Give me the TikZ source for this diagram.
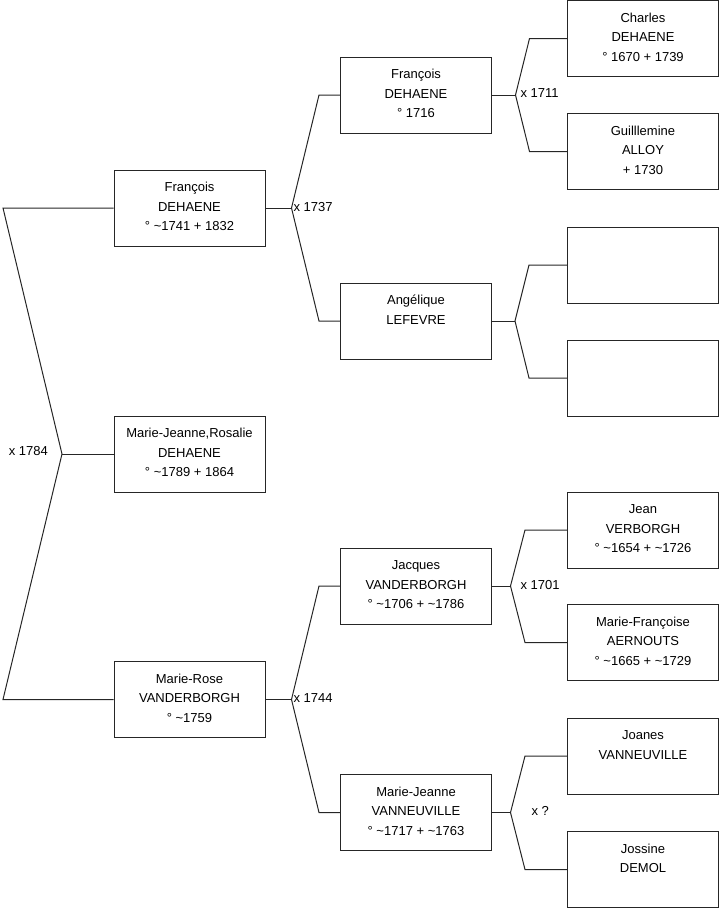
\documentclass[tikz,border=0pt]{standalone}
\usepackage{fontspec}
\setmainfont{Liberation Sans}
\newcommand{\who}[1]{\parbox[c][76pt][t]{151pt}{\centering\rule{0pt}{21.5pt}#1}}
\begin{document}
\begin{tikzpicture}[x=1pt, y=-1pt, line width=1pt, black!85,
	every node/.style={inner sep=0pt, text=black, font=\fontsize{13}{19.5}\selectfont},
	person/.style={draw, minimum width=151pt, minimum height=76pt}]
\useasboundingbox (0,0) rectangle (719,908);
% generation 1
				\node[person] (frd1) at (189.5,208) {\who{François\\DEHAENE\\° \textasciitilde1741 + 1832}};
				\node[person] (mjr1) at (189.5,454) {\who{Marie-Jeanne,Rosalie\\DEHAENE\\° \textasciitilde1789 + 1864}};
				\node[person] (mrv1) at (189.5,699.5) {\who{Marie-Rose\\VANDERBORGH\\° \textasciitilde1759}};
% generation 2
				\node[person] (frd2) at (416,95) {\who{François\\DEHAENE\\° 1716}};
				\node[person] (ale2) at (416,321) {\who{Angélique\\LEFEVRE}};
				\node[person] (jva2) at (416,586) {\who{Jacques\\VANDERBORGH\\° \textasciitilde1706 + \textasciitilde1786}};
				\node[person] (mjv2) at (416,812.5) {\who{Marie-Jeanne\\VANNEUVILLE\\° \textasciitilde1717 + \textasciitilde1763}};
% generation 3
				\node[person] (cde3) at (643,38.5) {\who{Charles\\DEHAENE\\° 1670 + 1739}};
				\node[person] (gal3) at (643,151.5) {\who{Guilllemine\\ALLOY\\+ 1730}};
				\node[person] (emp3a) at (643,265) {\who{}};
				\node[person] (emp3b) at (643,378) {\who{}};
				\node[person] (jve3) at (643,530) {\who{Jean\\VERBORGH\\° \textasciitilde1654 + \textasciitilde1726}};
				\node[person] (mfa3) at (643,642.5) {\who{Marie-Françoise\\AERNOUTS\\° \textasciitilde1665 + \textasciitilde1729}};
				\node[person] (jvn3) at (643,756) {\who{Joanes\\VANNEUVILLE}};
				\node[person] (jde3) at (643,869.5) {\who{Jossine\\DEMOL}};
% marriages
				\node[anchor=base west] (m1784) at (8.3,455.7) {x 1784};
				\node[anchor=base west] (m1737) at (293,211) {x 1737};
				\node[anchor=base west] (m1744) at (293,702.5) {x 1744};
				\node[anchor=base west] (m1711) at (520,97.5) {x 1711};
				\node[anchor=base west] (m1701) at (520,589) {x 1701};
				\node[anchor=base west] (mq) at (531,815) {x ?};
% links
				\coordinate (j1) at (62,454);
				\draw (frd1.west)--(3,208)--(j1)--(3,699.5)--(mrv1.west);
				\draw (j1)--(mjr1.west);
				\coordinate (j2) at (291.5,208);
				\draw (frd1.east)--(j2);
				\draw (frd2.west)--(319,95)--(j2)--(319,321)--(ale2.west);
				\coordinate (j5) at (291.5,699.5);
				\draw (mrv1.east)--(j5);
				\draw (jva2.west)--(319,586)--(j5)--(319,812.5)--(mjv2.west);
				\coordinate (j3) at (515.5,95);
				\draw (frd2.east)--(j3);
				\draw (cde3.west)--(529.5,38.5)--(j3)--(529.5,151.5)--(gal3.west);
				\coordinate (j4) at (515,321);
				\draw (ale2.east)--(j4);
				\draw (emp3a.west)--(529,265)--(j4)--(529,378)--(emp3b.west);
				\coordinate (j6) at (510.5,586);
				\draw (jva2.east)--(j6);
				\draw (jve3.west)--(525,530)--(j6)--(525,642.5)--(mfa3.west);
				\coordinate (j7) at (510.5,812.5);
				\draw (mjv2.east)--(j7);
				\draw (jvn3.west)--(525,756)--(j7)--(525,869.5)--(jde3.west);
\end{tikzpicture}
\end{document}
